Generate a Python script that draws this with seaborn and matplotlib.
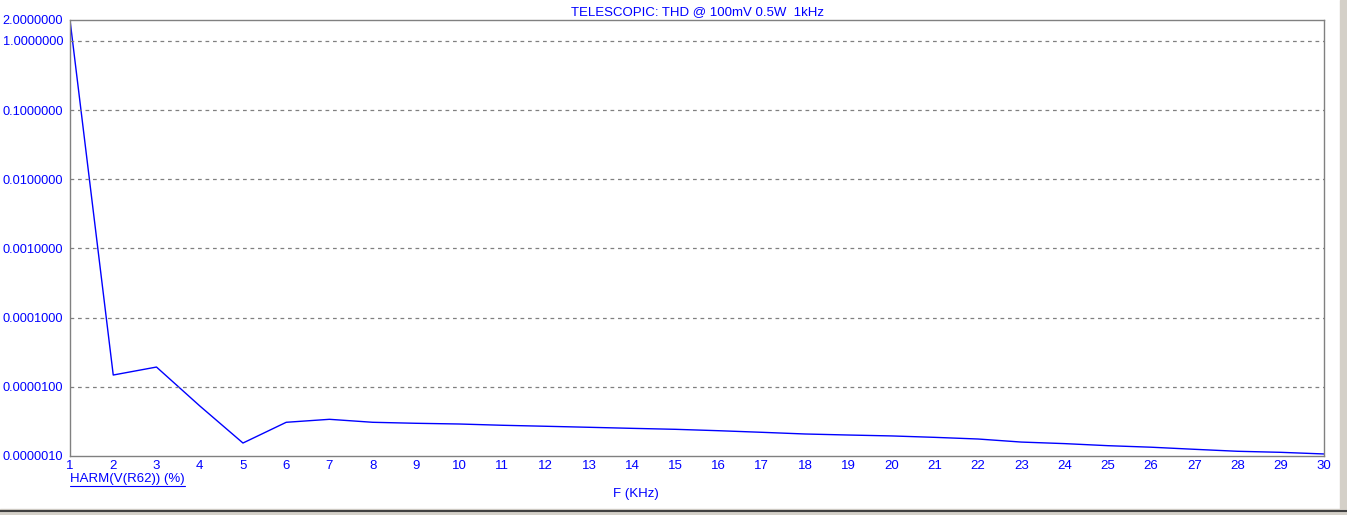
import numpy as np
import pandas as pd
import matplotlib
matplotlib.use("Agg")
import matplotlib.pyplot as plt
import matplotlib.ticker as mticker
from matplotlib.lines import Line2D
from matplotlib.patches import Rectangle
import seaborn as sns

# harmonic number (F in kHz) and HARM(V(R62)) in %
harmonic = list(range(1, 31))
harm_pct = [2.0, 1.48e-5, 1.93e-5, 5.3e-6, 1.54e-6, 3.07e-6, 3.39e-6, 3.07e-6,
            2.97e-6, 2.90e-6, 2.78e-6, 2.69e-6, 2.60e-6, 2.51e-6, 2.43e-6,
            2.32e-6, 2.20e-6, 2.08e-6, 2.01e-6, 1.95e-6, 1.86e-6, 1.76e-6,
            1.59e-6, 1.51e-6, 1.41e-6, 1.34e-6, 1.25e-6, 1.17e-6, 1.13e-6,
            1.07e-6]
y_ticks = [2.0, 1.0, 0.1, 0.01, 0.001, 0.0001, 0.00001, 0.000001]

df = pd.DataFrame({"F": harmonic, "HARM": harm_pct})

sns.set_style("white")
plt.rcParams["font.family"] = ["Liberation Sans", "DejaVu Sans"]

blue = "#0000ff"
grey = "#808080"

fig = plt.figure(figsize=(13.47, 5.15), dpi=100)
ax = fig.add_axes([70 / 1347, 1 - 456 / 515, 1254 / 1347, 436 / 515])

sns.lineplot(data=df, x="F", y="HARM", ax=ax, color=blue, linewidth=1)

ax.set_yscale("log")
ax.set_xlim(1, 30)
ax.set_ylim(1e-6, 2)
ax.set_xticks(harmonic)
ax.set_yticks(y_ticks)
ax.yaxis.set_major_formatter(mticker.FuncFormatter(lambda v, p: f"{v:.7f}"))
ax.yaxis.set_minor_locator(mticker.NullLocator())
ax.tick_params(axis="both", length=0, colors=blue)
ax.tick_params(axis="x", pad=3, labelsize=9.5)
ax.tick_params(axis="y", pad=5, labelsize=9.2)

for v in y_ticks[1:-1]:
    ax.axhline(v, color=grey, linestyle=(0, (3, 3)), linewidth=0.9)

for s in ax.spines.values():
    s.set_color(grey)
    s.set_linewidth(1)

ax.set_xlabel("")
ax.set_ylabel("")

fig.text(0.5175, 1 - 12 / 515, "TELESCOPIC: THD @ 100mV 0.5W  1kHz", color=blue,
         fontsize=9.5, ha="center", va="center")
fig.text(636 / 1347, 1 - 494 / 515, "F (KHz)", color=blue, fontsize=9.5,
         ha="center", va="center")
lbl = fig.text(70 / 1347, 1 - 479 / 515, "HARM(V(R62)) (%)", color=blue,
               fontsize=9.5, ha="left", va="center")

# underline the trace label
fig.canvas.draw()
bb = lbl.get_window_extent().transformed(fig.transFigure.inverted())
fig.add_artist(Line2D([bb.x0, bb.x1], [1 - 486 / 515] * 2, color=blue,
                      linewidth=0.8, transform=fig.transFigure))

# window frame bits
fig.add_artist(Rectangle((1340 / 1347, 0), 7 / 1347, 1, color="#d4d0c8",
                         transform=fig.transFigure))
fig.add_artist(Rectangle((0, 0), 1, 6 / 515, color="#d4d0c8",
                         transform=fig.transFigure))
fig.add_artist(Line2D([0, 1], [4 / 515] * 2, color="#404040", linewidth=1.5,
                      transform=fig.transFigure))

fig.savefig("out.png", dpi=100, facecolor="white")
